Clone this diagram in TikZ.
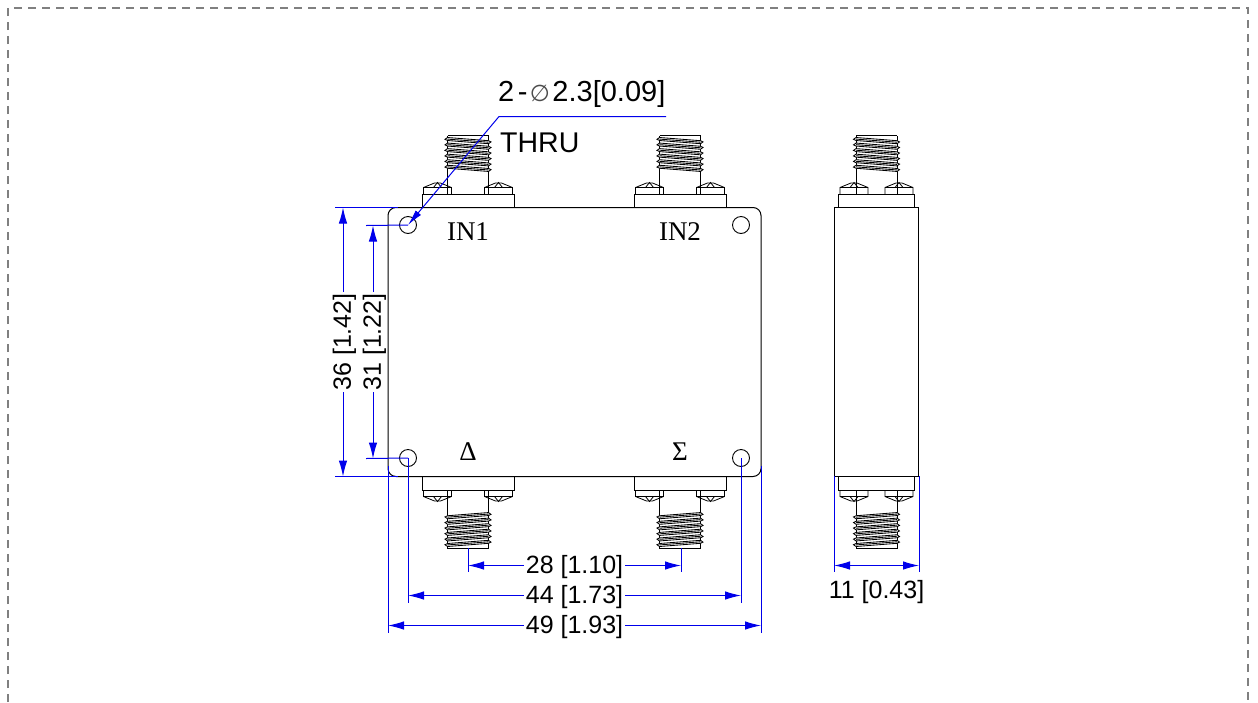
\documentclass[tikz,border=0pt]{standalone}
\usepackage{fontspec}
\setmainfont{Liberation Sans}
\newfontfamily\serifl{Liberation Serif}
\newfontfamily\phifont{DejaVu Sans}
\usetikzlibrary{arrows.meta}
\definecolor{dimblue}{RGB}{0,0,235}
\tikzset{
  x=1pt,y=-1pt,
  outline/.style={draw=black,line width=1pt},
  fineline/.style={draw=black,line width=0.8pt},
  threadline/.style={draw=black,line width=0.85pt},
  ext/.style={draw=dimblue,line width=1pt},
  dimline/.style={draw=dimblue,line width=1pt,{Latex[length=16pt,width=8.5pt]}-{Latex[length=16pt,width=8.5pt]}},
  dimtext/.style={font=\fontsize{25}{25}\selectfont,fill=white,inner xsep=1.5pt,inner ysep=1pt,text=black},
  calltext/.style={font=\fontsize{29}{29}\selectfont,anchor=west,inner sep=0pt,text=black},
  portlabel/.style={font=\serifl\fontsize{27}{27}\selectfont,inner sep=0pt,text=black},
  hole/.style={circle,draw=black,line width=0.9pt,minimum size=17pt,inner sep=0pt},
  frameline/.style={draw=black!50,line width=2pt,dash pattern=on 8pt off 6pt},
  % connector drawn around its axis: direction / flange half width / screw offset
  pics/sma/.style args={#1/#2/#3}{code={
    \begin{scope}[yscale=#1]
      \draw[outline] (-#2,0) rectangle (#2,-13.5);
      \foreach \c in {-#3,#3}{
        \draw[fineline] (\c-14,-13.5) -- (\c-14,-20) -- (\c-3,-24.5) -- (\c+3,-24.5) -- (\c+14,-20) -- (\c+14,-13.5);
        \draw[fineline] (\c-14,-20) -- (\c+14,-20);
        \draw[fineline] (\c-4,-20) -- (\c,-25) -- (\c+4,-20);
      }
      \draw[outline] (-20.5,-13.5) -- (-20.5,-72);
      \draw[outline] (20.5,-13.5) -- (20.5,-72);
      \draw[outline] (-20.5,-72) -- (20.5,-72);
      \foreach \i in {0,...,5}{
        \pgfmathsetmacro{\yy}{-70+\i*5.55}
        \draw[threadline,fill=white] (-20.5,\yy) -- (-23,\yy+1.8) -- (-20.5,\yy+3) -- (20.5,\yy+6.2) -- (23,\yy+4.4) -- (20.5,\yy+3.2) -- cycle;
        \draw[threadline] (-20.5,\yy+1.6) -- (20.5,\yy+4.7);
      }
    \end{scope}
  }}
}
\begin{document}
\begin{tikzpicture}
\useasboundingbox (0,0) rectangle (1258,702);
\fill[white] (0,0) rectangle (1258,702);
% outer dashed frame
\coordinate (fa) at (8,702);
\coordinate (fb) at (8,8);
\coordinate (fc) at (1248,8);
\coordinate (fd) at (1248,702);
\draw[frameline] (fa) -- (fb) -- (fc) -- (fd);

% front view body
\draw[outline,rounded corners=8pt] (388,207.5) rectangle (761,476.5);
% side view body
\draw[outline] (834,207.5) rectangle (918.5,476.5);

% connectors
\pic at (468,207.5) {sma=1/46/30.5};
\pic at (680,207.5) {sma=1/46/30.5};
\pic at (876.5,207.5) {sma=1/38/22.5};
\pic at (468,476.5) {sma=-1/46/30.5};
\pic at (680,476.5) {sma=-1/46/30.5};
\pic at (876.5,476.5) {sma=-1/38/22.5};

% holes
\node[hole] (h1) at (408,225) {};
\node[hole] (h2) at (741,225) {};
\node[hole] (h3) at (408,458) {};
\node[hole] (h4) at (741,458) {};

% port labels
\node[portlabel] (in1) at (468,232) {IN1};
\node[portlabel] (in2) at (680,232) {IN2};
\node[portlabel] (delta) at (468,452) {Δ};
\node[portlabel] (sigma) at (680,452) {Σ};

% reference coordinates of the dimensions
\coordinate (t36a) at (343,207.5);
\coordinate (t36b) at (343,476.5);
\coordinate (t31a) at (373,225.5);
\coordinate (t31b) at (373,458.5);
\coordinate (d28a) at (468,565.5);
\coordinate (d28b) at (681,565.5);
\coordinate (d44a) at (408,595.5);
\coordinate (d44b) at (741,595.5);
\coordinate (d49a) at (388,625.5);
\coordinate (d49b) at (761,625.5);
\coordinate (d11a) at (834,565.5);
\coordinate (d11b) at (919,565.5);

% extension lines
\draw[ext] (335,207.5) -- (398,207.5);
\draw[ext] (335,476.5) -- (398,476.5);
\draw[ext] (366,225.5) -- (h1.center);
\draw[ext] (366,458.5) -- (h3.center);
\draw[ext] (468,548) -- (468,572);
\draw[ext] (681,548) -- (681,572);
\draw[ext] (h3.center) -- (408,603);
\draw[ext] (h4.center) -- (741,603);
\draw[ext] (388,466) -- (388,633);
\draw[ext] (761,466) -- (761,633);
\draw[ext] (834,476) -- (834,572);
\draw[ext] (919,476) -- (919,572);

% dimension lines with their values
\draw[dimline] (t36a) -- node[dimtext,rotate=90,yshift=-1.5pt] (l36) {36 [1.42]} (t36b);
\draw[dimline] (t31a) -- node[dimtext,rotate=90,yshift=-1.5pt] (l31) {31 [1.22]} (t31b);
\draw[dimline] (d28a) -- node[dimtext,yshift=-1.5pt] (l28) {28 [1.10]} (d28b);
\draw[dimline] (d44a) -- node[dimtext,yshift=-1.5pt] (l44) {44 [1.73]} (d44b);
\draw[dimline] (d49a) -- node[dimtext,yshift=-1.5pt] (l49) {49 [1.93]} (d49b);
\draw[dimline] (d11a) -- (d11b);
\node[dimtext,fill=none] (l11) at (876.5,592.5) {11 [0.43]};

% hole callout
\coordinate (elbow) at (499,116.5);
\coordinate (callend) at (666,116.5);
\draw[draw=dimblue,line width=1pt,{Latex[length=16pt,width=7pt]}-] (h1.center) -- (elbow) -- (callend);
\node[calltext] (c1) at (498,94) {2\hspace{3.5pt}-\makebox[25pt][c]{\phifont\color{black!70}\fontsize{23}{23}\selectfont ∅}2.3[0.09]};
\node[calltext,font=\fontsize{28.5}{28.5}\selectfont] (c2) at (500,143) {THRU};
\end{tikzpicture}
\end{document}
